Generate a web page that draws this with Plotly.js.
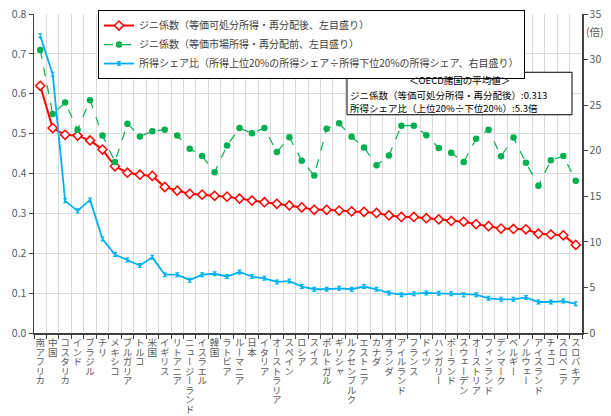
<!DOCTYPE html>
<html><head><meta charset="utf-8">
<script src="https://cdn.plot.ly/plotly-3.0.1.min.js"></script>
<style>
html,body{margin:0;padding:0;background:#fff;}
#chart{width:611px;height:416px;}
.xtick text{writing-mode:vertical-rl;text-anchor:start !important;}
</style></head><body><div id="chart"></div>
<script>
const countries = ["南アフリカ","中国","コスタリカ","インド","ブラジル","チリ","メキシコ","ブルガリア","トルコ","米国","イギリス","リトアニア","ニュージーランド","イスラエル","韓国","ラトビア","ルーマニア","日本","イタリア","オーストラリア","スペイン","ロシア","スイス","ポルトガル","ギリシャ","ルクセンブルク","エストニア","カナダ","オランダ","アイルランド","フランス","ドイツ","ハンガリー","ポーランド","スウェーデン","オーストリア","フィンランド","デンマーク","ベルギー","ノルウェー","アイスランド","チェコ","スロベニア","スロバキア"];
const giniDisposable = [0.620,0.514,0.497,0.495,0.483,0.460,0.418,0.402,0.397,0.394,0.366,0.357,0.349,0.347,0.344,0.342,0.337,0.332,0.328,0.324,0.320,0.315,0.309,0.309,0.307,0.305,0.304,0.301,0.295,0.291,0.291,0.288,0.285,0.281,0.279,0.273,0.268,0.262,0.261,0.260,0.249,0.247,0.245,0.221];
const giniMarket = [0.710,0.549,0.578,0.510,0.584,0.495,0.429,0.525,0.493,0.506,0.510,0.495,0.462,0.444,0.403,0.470,0.514,0.501,0.514,0.454,0.491,0.432,0.395,0.512,0.526,0.492,0.465,0.421,0.445,0.520,0.520,0.496,0.464,0.452,0.429,0.487,0.510,0.443,0.490,0.427,0.369,0.433,0.444,0.382];
const shareRatio = [32.6,28.4,14.5,13.4,14.6,10.3,8.6,8.0,7.4,8.3,6.4,6.4,5.8,6.4,6.5,6.2,6.7,6.2,6.0,5.6,5.7,5.1,4.8,4.8,4.9,4.8,5.1,4.8,4.4,4.2,4.3,4.4,4.35,4.3,4.2,4.2,3.8,3.7,3.7,3.9,3.4,3.4,3.5,3.2];
const seriesNames = ["ジニ係数（等価可処分所得・再分配後、左目盛り）","ジニ係数（等価市場所得・再分配前、左目盛り）","所得シェア比（所得上位20%の所得シェア÷所得下位20%の所得シェア、右目盛り）"];
const noteHeader = "＜OECD諸国の平均値＞";
const noteLines = ["ジニ係数（等価可処分所得・再分配後）:0.313","所得シェア比（上位20%÷下位20%）:5.3倍"];
const rightUnit = "(倍)";

const traces = [
  {x:countries, y:giniDisposable, name:seriesNames[0], type:'scatter', mode:'lines+markers',
   line:{color:'#FF0000', width:2}, marker:{symbol:'diamond', size:7, color:'#FFFFFF', line:{color:'#FF0000', width:1.5}}},
  {x:countries, y:giniMarket, name:seriesNames[1], type:'scatter', mode:'lines+markers',
   line:{color:'#00B050', width:1.2, dash:'dash'}, marker:{symbol:'circle', size:6.5, color:'#00B050'}},
  {x:countries, y:shareRatio, name:seriesNames[2], type:'scatter', mode:'lines+markers', yaxis:'y2',
   line:{color:'#00B0F0', width:1.8}, marker:{symbol:'hourglass', size:5, color:'#00B0F0'}}
];

const L = 34, R = 582, T = 10, B = 333;
const px = v => (v - L)/(R - L);
const py = v => (B - v)/(B - T);

const layout = {
  width:611, height:416,
  margin:{l:L, r:611-R, t:T, b:416-B, pad:0},
  paper_bgcolor:'#FFFFFF', plot_bgcolor:'#FFFFFF',
  font:{family:'"Noto Sans CJK JP", sans-serif', color:'#595959', size:10},
  showlegend:true,
  xaxis:{type:'category', tickson:'boundaries', ticks:'outside', ticklen:4, tickcolor:'#404040',
    showgrid:true, gridcolor:'#D9D9D9', gridwidth:1, showline:true, linecolor:'#404040', linewidth:1.5,
    tickangle:0, tickfont:{size:9.5, color:'#595959'}, ticklabelstandoff:-8, nticks:100,
    range:[-0.5, countries.length-0.5], fixedrange:true, automargin:false},
  yaxis:{range:[0,0.8], dtick:0.1, tickformat:'.1f', showgrid:true, gridcolor:'#D9D9D9',
    showline:true, linecolor:'#404040', linewidth:1.5, ticks:'outside', ticklen:4, tickcolor:'#404040',
    zeroline:false, tickfont:{size:10.5, color:'#595959'}, automargin:false},
  yaxis2:{overlaying:'y', side:'right', range:[0,35], dtick:5, showgrid:false, showline:true,
    linecolor:'#404040', linewidth:1.5, ticks:'outside', ticklen:4, tickcolor:'#404040', zeroline:false,
    tickfont:{size:10.5, color:'#595959'}, automargin:false},
  legend:{x:px(98), y:py(6), xanchor:'left', yanchor:'top', bgcolor:'#FFFFFF', bordercolor:'#000000',
    borderwidth:1, font:{size:10, color:'#404040'}, itemwidth:30, traceorder:'normal'},
  shapes:[{type:'rect', xref:'paper', yref:'paper', x0:px(347), x1:px(572), y0:py(112), y1:py(69),
    line:{color:'#000000', width:1}, fillcolor:'#FFFFFF', layer:'above'}],
  annotations:[
    {xref:'paper', yref:'paper', x:(px(347)+px(572))/2, y:py(77), xanchor:'center', yanchor:'middle',
     text:noteHeader, showarrow:false, borderpad:0, font:{size:9.5, color:'#000000'}},
    {xref:'paper', yref:'paper', x:px(349), y:py(92.5), xanchor:'left', yanchor:'middle', align:'left',
     text:noteLines[0], showarrow:false, borderpad:0, font:{size:9.5, color:'#000000'}},
    {xref:'paper', yref:'paper', x:px(349), y:py(105.5), xanchor:'left', yanchor:'middle', align:'left',
     text:noteLines[1], showarrow:false, borderpad:0, font:{size:9.5, color:'#000000'}},
    {xref:'paper', yref:'paper', x:1, y:py(28), xanchor:'left', yanchor:'middle', xshift:2,
     text:rightUnit, showarrow:false, font:{size:10.5, color:'#595959'}}
  ]
};

Plotly.newPlot('chart', traces, layout, {displayModeBar:false, staticPlot:true});
</script></body></html>
